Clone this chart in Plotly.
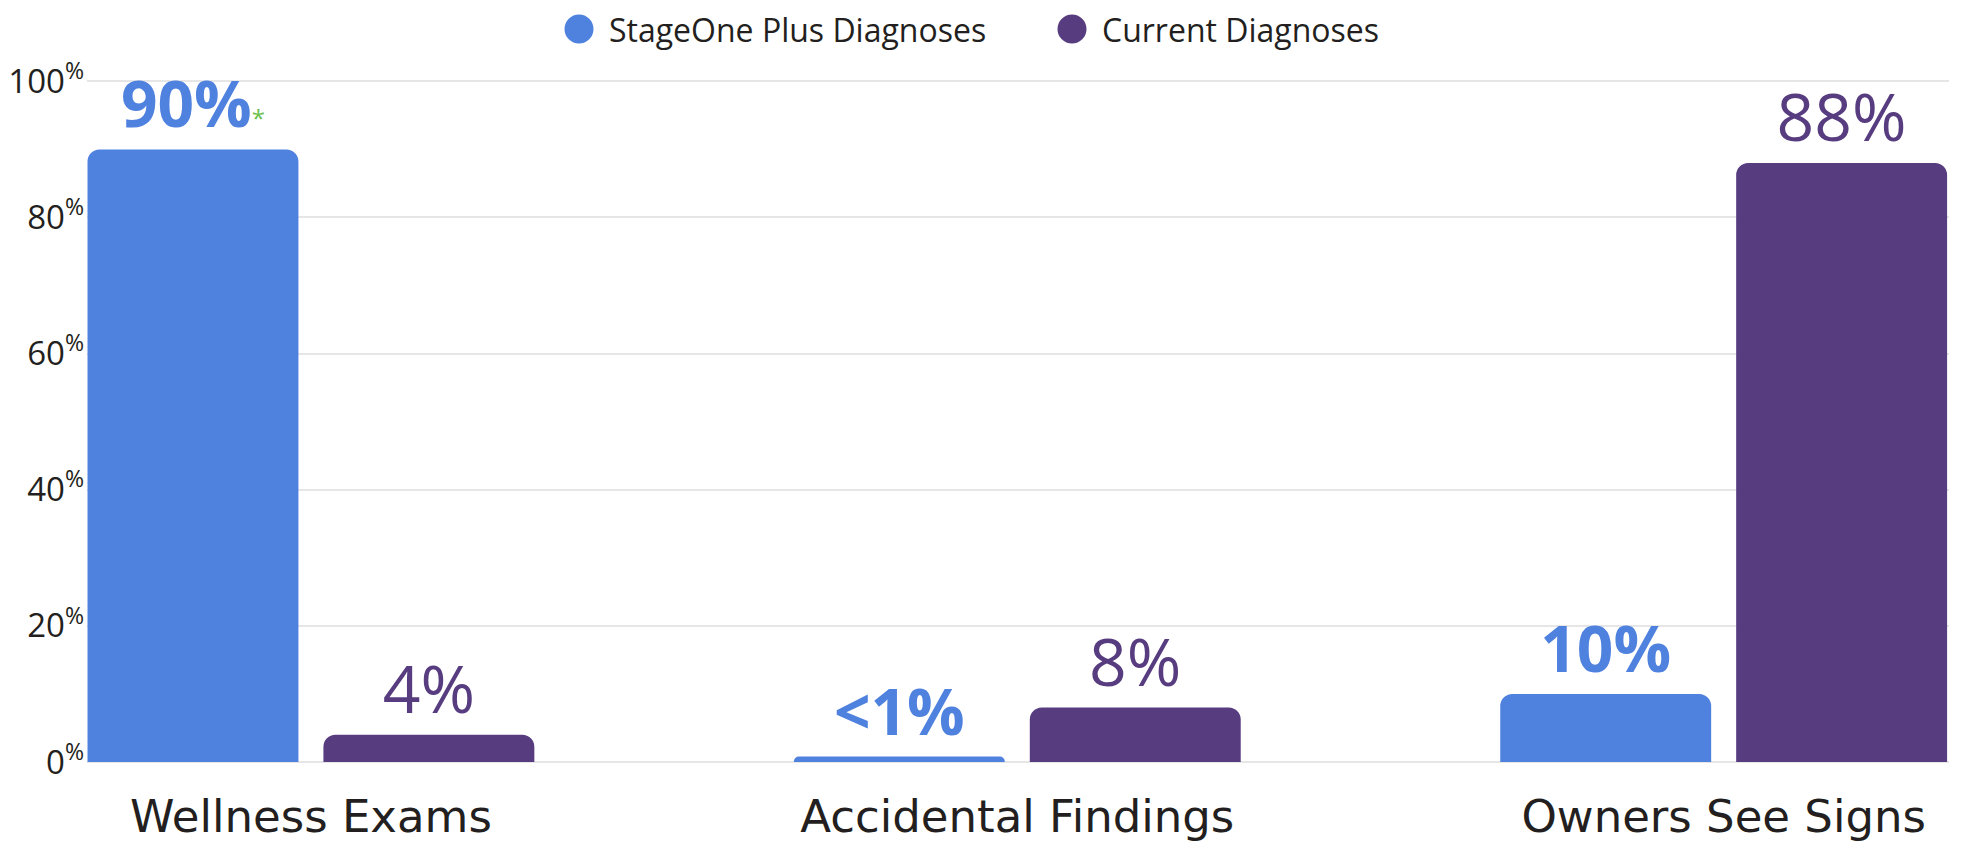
import plotly.graph_objects as go

categories = ["Wellness Exams", "Accidental Findings", "Owners See Signs"]
series_names = ["StageOne Plus Diagnoses", "Current Diagnoses"]
stageone_values = [90, 0.8, 10]
current_values = [4, 8, 88]
stageone_labels = ["90%", "<1%", "10%"]
current_labels = ["4%", "8%", "88%"]
y_tick_values = [0, 20, 40, 60, 80, 100]
y_tick_labels = ["0%", "20%", "40%", "60%", "80%", "100%"]

BLUE = "#4F81DF"
PURPLE = "#573D80"
GREEN = "#6ABF4B"
FONT = "Open Sans"
CAT_FONT = "DejaVu Sans"
DARK = "#231F20"

# page body has an 8px margin, so the figure is sized to fit the window
W, H = 1962, 840
ML, MR, MT, MB = 79, 21, 72, 86
PW = W - ML - MR
PH = H - MT - MB

# asterisk footnote mark on the first StageOne label
stageone_text = [
    lab + ("<span style='color:%s;font-size:24px;font-weight:normal'>*</span>" % GREEN if i == 0 else "")
    for i, lab in enumerate(stageone_labels)
]

fig = go.Figure()
fig.add_trace(go.Bar(
    x=categories, y=stageone_values, name=series_names[0],
    marker=dict(color=BLUE, cornerradius=12, line=dict(width=0)),
    text=stageone_text, textposition="outside", cliponaxis=False,
    constraintext="none",
    textfont=dict(family=FONT, size=64, color=BLUE, weight="bold"),
    showlegend=False,
))
fig.add_trace(go.Bar(
    x=categories, y=current_values, name=series_names[1],
    marker=dict(color=PURPLE, cornerradius=12, line=dict(width=0)),
    text=current_labels, textposition="outside", cliponaxis=False,
    constraintext="none",
    textfont=dict(family=FONT, size=66, color=PURPLE),
    showlegend=False,
))

# manual legend with large circular markers (figure pixel positions)
legend_items = [(series_names[0], BLUE, 571, 599), (series_names[1], PURPLE, 1064, 1092)]
LEG_Y = 21
shapes = []
annotations = []
for name, col, cx, tx in legend_items:
    shapes.append(dict(
        type="circle", xref="paper", yref="paper",
        xsizemode="pixel", ysizemode="pixel",
        xanchor=(cx - ML) / PW, yanchor=(H - MB - LEG_Y) / PH,
        x0=-14.5, x1=14.5, y0=-14.5, y1=14.5,
        fillcolor=col, line=dict(width=0),
    ))
    annotations.append(dict(
        text=name, xref="paper", yref="paper",
        x=(tx - ML) / PW, y=(H - MB - LEG_Y) / PH,
        xanchor="left", yanchor="middle", showarrow=False,
        font=dict(family=FONT, size=32, color=DARK),
    ))

fig.update_layout(
    width=W, height=H,
    margin=dict(l=ML, r=MR, t=MT, b=MB, autoexpand=False),
    paper_bgcolor="white", plot_bgcolor="white",
    barmode="group", bargap=0.332, bargroupgap=0.106,
    font=dict(family=FONT, color=DARK),
    shapes=shapes, annotations=annotations,
    showlegend=False,
    xaxis=dict(
        range=[-0.317, 2.319], showgrid=False, showline=False, zeroline=False,
        tickfont=dict(family=CAT_FONT, size=45, color=DARK),
        ticklabelstandoff=24, automargin=False,
    ),
    yaxis=dict(
        range=[0, 100.2], tickvals=y_tick_values,
        ticktext=[t[:-1] + "<sup>%</sup>" for t in y_tick_labels],
        tickfont=dict(family=FONT, size=33, color=DARK),
        showgrid=True, gridcolor="#E6E6E6", gridwidth=1.5,
        zeroline=True, zerolinecolor="#E6E6E6", zerolinewidth=2,
        showline=False, ticklabelstandoff=2, automargin=False,
    ),
)

fig.write_html("out.html")
